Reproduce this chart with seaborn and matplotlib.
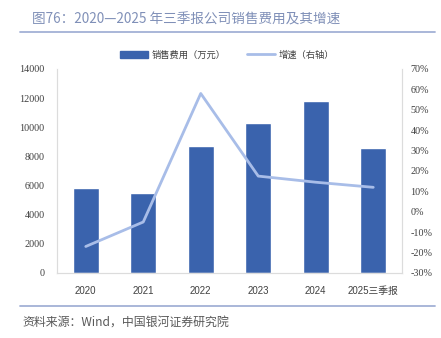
import numpy as np
import pandas as pd
import matplotlib
matplotlib.use("Agg")
import matplotlib.pyplot as plt
from matplotlib.patches import Patch
from matplotlib.lines import Line2D
import seaborn as sns

# Data: selling expenses (10k yuan) and growth rate (%)
years = ["2020", "2021", "2022", "2023", "2024", "2025三季报"]
expenses = [5800, 5500, 8700, 10300, 11800, 8600]
growth = [-17.0, -5.0, 58.0, 17.5, 14.5, 12.0]
left_ticks = [0, 2000, 4000, 6000, 8000, 10000, 12000, 14000]
right_ticks = [-30, -20, -10, 0, 10, 20, 30, 40, 50, 60, 70]

sns.set_theme(style="white")
plt.rcParams["font.family"] = ["Noto Sans CJK SC", "DejaVu Sans"]

BAR = "#3a63ad"
LINE = "#a8bde8"
SPINE = "#dcdcdc"
TXT = "#404040"

df = pd.DataFrame({"year": years, "expenses": expenses, "growth": growth})

fig = plt.figure(figsize=(4.41, 3.38), dpi=100)
ax = fig.add_axes([57 / 441, 1 - 273 / 338, (402 - 57) / 441, (273 - 69) / 338])

sns.barplot(data=df, x="year", y="expenses", color=BAR, width=0.45,
            saturation=1, ax=ax, zorder=2)
ax.set_xlim(-0.5, len(years) - 0.5)
ax.set_ylim(0, 14000)
ax.set_yticks(left_ticks)
ax.set_yticklabels([str(v) for v in left_ticks], family="Liberation Serif",
                   fontsize=7.3, color=TXT)
ax.set_xlabel("")
ax.set_ylabel("")
for lab in ax.get_xticklabels():
    lab.set_fontsize(7.0)
    lab.set_color(TXT)
    lab.set_family(["Liberation Sans", "Noto Sans CJK SC"])
ax.tick_params(axis="x", length=0, pad=9)
ax.tick_params(axis="y", length=0, pad=9)

ax2 = ax.twinx()
pos = np.arange(len(years))
sns.lineplot(x=pos, y=df["growth"], color=LINE, linewidth=2.0, ax=ax2,
             zorder=3)
ax2.set_ylim(-30, 70)
ax2.set_yticks(right_ticks)
ax2.set_yticklabels([f"{v}%" for v in right_ticks], family="Liberation Serif",
                    fontsize=7.3, color=TXT)
ax2.set_ylabel("")
ax2.tick_params(axis="y", length=0, pad=6)

for a in (ax, ax2):
    a.spines["top"].set_visible(False)
    for s in ("left", "right", "bottom"):
        a.spines[s].set_color(SPINE)
        a.spines[s].set_linewidth(0.8)

handles = [Patch(facecolor=BAR, edgecolor=BAR),
           Line2D([0], [0], color=LINE, linewidth=2.0)]
labels = ["销售费用（万元）", "增速（右轴）"]
fig.legend(handles, labels, loc="center", bbox_to_anchor=(227 / 441, 1 - 55 / 338),
           ncol=2, frameon=False, fontsize=6.7, handlelength=3.0,
           handleheight=0.8, handletextpad=0.4, columnspacing=2.3,
           labelcolor=TXT)

fig.text(32 / 441, 1 - 20 / 338, "图76：2020—2025 年三季报公司销售费用及其增速",
         fontsize=9.8, color="#8090b8", va="center", ha="left")
fig.add_artist(Line2D([20 / 441, 435 / 441], [1 - 32 / 338] * 2,
                      color="#a3b1d6", linewidth=1.3))
fig.add_artist(Line2D([20 / 441, 435 / 441], [1 - 306 / 338] * 2,
                      color="#a3b1d6", linewidth=1.3))
fig.text(22 / 441, 1 - 322 / 338, "资料来源：Wind，中国银河证券研究院",
         fontsize=8.6, color="#595959", style="italic", va="center", ha="left")

fig.savefig("out.png", dpi=100)
